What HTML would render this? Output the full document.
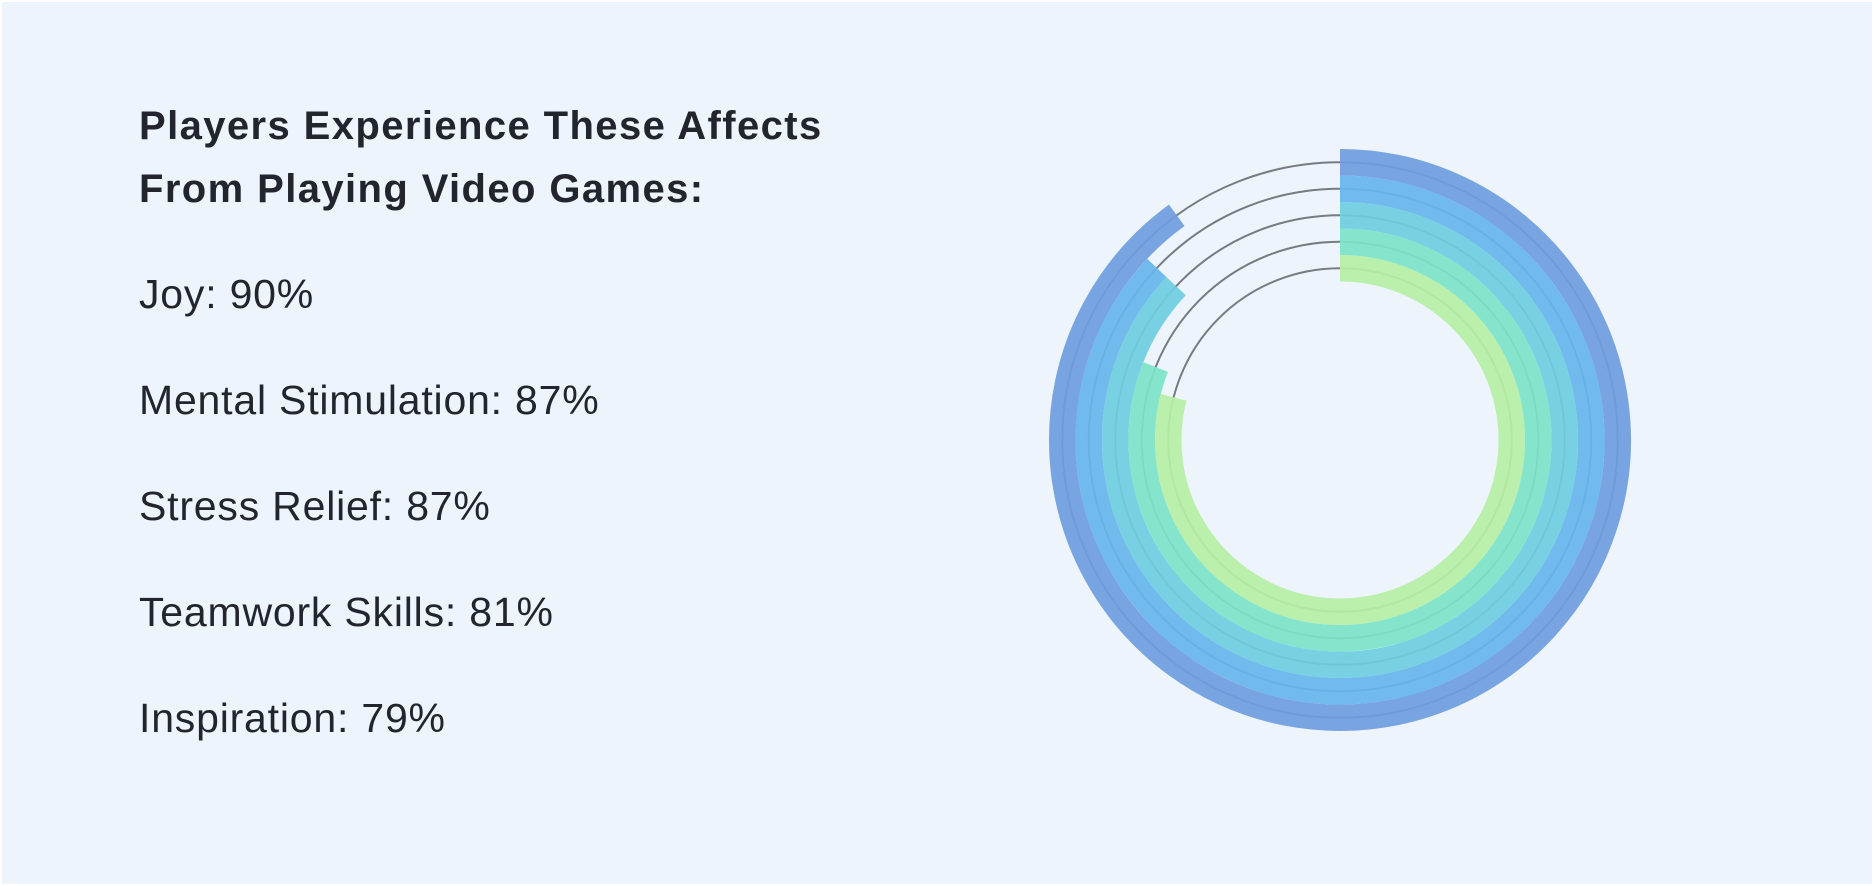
<!DOCTYPE html>
<html><head><meta charset="utf-8"><style>
html,body{margin:0;padding:0;width:1874px;height:886px;overflow:hidden;background:#fff}
#card{position:absolute;left:2px;top:2px;width:1870px;height:882px;background:#eef4fc;font-family:"Liberation Sans",sans-serif;color:#22262c}
h1{position:absolute;left:137px;top:93px;margin:0;font-size:40px;line-height:63px;font-weight:bold;width:840px;letter-spacing:1.4px}
.item{position:absolute;left:137px;font-size:41px;margin:0;letter-spacing:0.8px}
svg{position:absolute;left:0;top:0}
</style></head><body>
<div id="card">
<h1>Players Experience These Affects<br>From Playing Video Games:</h1>
<p class="item" style="top:269px">Joy: 90%</p>
<p class="item" style="top:375px">Mental Stimulation: 87%</p>
<p class="item" style="top:481px">Stress Relief: 87%</p>
<p class="item" style="top:587px">Teamwork Skills: 81%</p>
<p class="item" style="top:693px">Inspiration: 79%</p>
<svg id="chart" width="1870" height="882"></svg>
</div>
<script>
const categories = ["Joy","Mental Stimulation","Stress Relief","Teamwork Skills","Inspiration"];
const values = [90,87,87,81,79];
const colors = ["#6f9de0","#66b5ec","#6fcde0","#7de3c8","#b6eea6"];
const svg = document.getElementById('chart');
const NS = "http://www.w3.org/2000/svg";
const cx = 1338, cy = 438, outerR = 291, bandW = 26.5;
function angle(v){ return v/100*2*Math.PI; }
function pt(r,a){ return [cx + r*Math.sin(a), cy - r*Math.cos(a)]; }
categories.forEach((c,i)=>{
  const rMid = outerR - bandW*(i+0.5);
  const track = document.createElementNS(NS,'circle');
  
  
  track.setAttribute('cx',cx); track.setAttribute('cy',cy); track.setAttribute('r',rMid);
  track.setAttribute('fill','none'); track.setAttribute('stroke','#777b80'); track.setAttribute('stroke-width','2');
  svg.appendChild(track);
});
categories.forEach((c,i)=>{
  const rMid = outerR - bandW*(i+0.5);
  const a = angle(values[i]);
  const [x0,y0] = pt(rMid,0), [x1,y1] = pt(rMid,a);
  const large = a > Math.PI ? 1 : 0;
  const p = document.createElementNS(NS,'path');
  
  
  p.setAttribute('d',`M${x0},${y0} A${rMid},${rMid} 0 ${large} 1 ${x1},${y1}`);
  p.setAttribute('fill','none'); p.setAttribute('stroke',colors[i]);
  p.setAttribute('stroke-width',bandW); p.setAttribute('opacity','0.93');
  svg.appendChild(p);
});
</script>
</body></html>
